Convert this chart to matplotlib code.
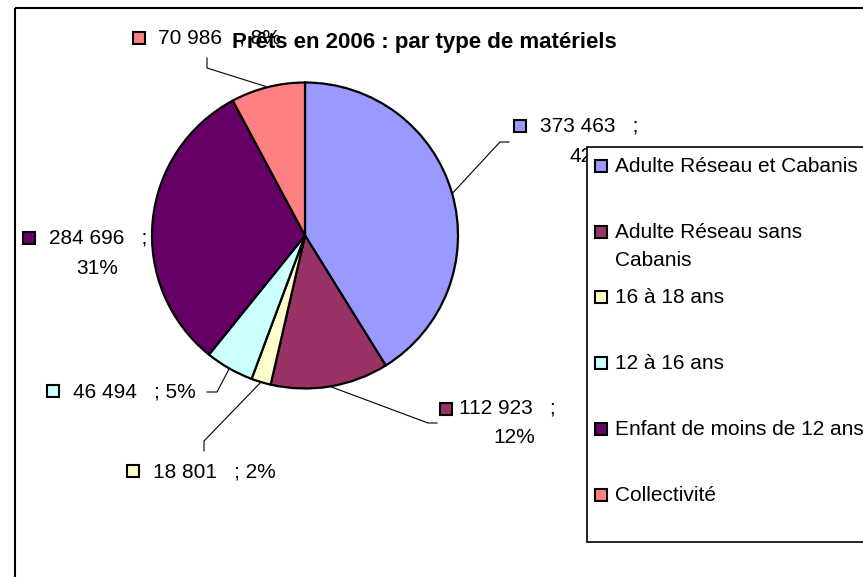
import numpy as np
import matplotlib
matplotlib.use("Agg")
import matplotlib.pyplot as plt
from matplotlib.patches import Rectangle

plt.rcParams['font.family'] = ['Liberation Sans', 'DejaVu Sans']

#the data
categories = [
    "Adulte Réseau et Cabanis",
    "Adulte Réseau sans\nCabanis",
    "16 à 18 ans",
    "12 à 16 ans",
    "Enfant de moins de 12 ans",
    "Collectivité",
]
values = [373463, 112923, 18801, 46494, 284696, 70986]
pct_labels = ["42%", "12%", "2%", "5%", "31%", "8%"]
colors = ["#9999FF", "#993366", "#FFFFCC", "#CCFFFF", "#660066", "#FF8080"]
title = "Prêts en 2006 : par type de matériels"

#layout (pixels, y going down)
W, H = 863, 577
center = (305, 235.5)
radius = 153
fs = 15

# label layout: marker center, text start, baseline, two lines?, 2nd line center, leader knee pts
label_layout = [
    dict(mk=(519.5, 126), tx=540, base=132, two=True, c2=590, base2=162, knee=[(500, 142), (509, 142)]),
    dict(mk=(446, 409), tx=459, base=413, two=True, c2=514, base2=443, knee=[(428, 423), (437, 423)]),
    dict(mk=(133, 471), tx=153, base=478, two=False, knee=[(204, 441), (204, 451)]),
    dict(mk=(53, 391), tx=73, base=398, two=False, knee=[(217, 392), (207, 392)]),
    dict(mk=(29, 238), tx=49, base=243, two=True, c2=97, base2=274, knee=None),
    dict(mk=(139, 38), tx=158, base=43, two=False, knee=[(207, 68), (207, 58)]),
]


def fmt(v):
    return f"{v:,}".replace(",", " ")


fig = plt.figure(figsize=(W / 100, H / 100), dpi=100)
ax = fig.add_axes([0, 0, 1, 1])

wedges, _ = ax.pie(values, colors=colors, startangle=-90, counterclock=True,
                   center=center, radius=radius, frame=True,
                   wedgeprops=dict(edgecolor="black", linewidth=1.6))
ax.set_xlim(0, W)
ax.set_ylim(H, 0)
ax.set_aspect("equal")
ax.axis("off")

# chart frame
ax.add_patch(Rectangle((15, 8), 900, 700, fill=False, edgecolor="black", lw=1.5, zorder=1))

# data labels
for i, (w, lay) in enumerate(zip(wedges, label_layout)):
    mid = np.deg2rad((w.theta1 + w.theta2) / 2)
    edge = (center[0] + radius * np.cos(mid), center[1] + radius * np.sin(mid))
    if lay["knee"]:
        pts = [edge] + lay["knee"]
        ax.plot([p[0] for p in pts], [p[1] for p in pts], color="black", lw=0.8, zorder=3)
    ax.add_patch(Rectangle((lay["mk"][0] - 6, lay["mk"][1] - 6), 12, 12,
                           facecolor=colors[i], edgecolor="black", lw=1.5, zorder=4))
    if lay["two"]:
        ax.text(lay["tx"], lay["base"], fmt(values[i]) + "   ;", fontsize=fs,
                ha="left", va="baseline", zorder=4)
        ax.text(lay["c2"], lay["base2"], pct_labels[i], fontsize=fs,
                ha="center", va="baseline", zorder=4)
    else:
        ax.text(lay["tx"], lay["base"], fmt(values[i]) + "   ; " + pct_labels[i], fontsize=fs,
                ha="left", va="baseline", zorder=4)

# title
ax.text(424.5, 48, title, fontsize=16, fontweight="bold", ha="center", va="baseline", zorder=5)

# legend
ax.add_patch(Rectangle((587, 147), 400, 395, facecolor="white", edgecolor="black", lw=1.2, zorder=6))
leg_base = [172, 238, 303, 369, 435, 501]
for i, cat in enumerate(categories):
    b = leg_base[i]
    ax.add_patch(Rectangle((595, b - 12), 12, 12, facecolor=colors[i], edgecolor="black",
                           lw=1.5, zorder=7))
    lines = cat.split("\n")
    for k, ln in enumerate(lines):
        ax.text(615, b + k * 28, ln, fontsize=fs, ha="left", va="baseline", zorder=7)

fig.savefig("out.png", dpi=100)
